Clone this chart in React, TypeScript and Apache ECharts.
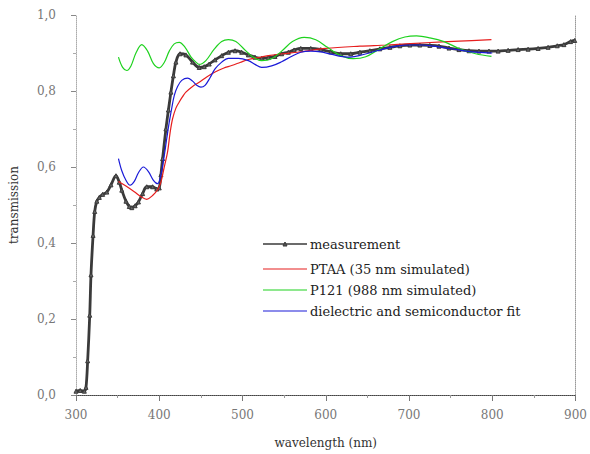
import React, { useEffect, useRef } from "react";
import * as echarts from "echarts";

const seriesNames = [
  "measurement",
  "PTAA (35 nm simulated)",
  "P121 (988 nm simulated)",
  "dielectric and semiconductor fit",
];

const measurement: [number, number][] = [
  [300, 0.01], [305, 0.012], [310, 0.01], [312, 0.02], [314, 0.09], [316.5, 0.21], [318, 0.316],
  [320.5, 0.42], [322.5, 0.483], [325, 0.51], [328, 0.52], [332, 0.528], [337, 0.534], [342, 0.553],
  [348, 0.577], [352, 0.56], [355, 0.539], [360, 0.51], [364, 0.496], [367, 0.493], [371, 0.498],
  [375, 0.508], [380, 0.53], [385, 0.548], [392, 0.548], [397, 0.542], [400, 0.545], [402, 0.58],
  [404, 0.622], [408, 0.7], [411, 0.75], [414, 0.797], [417, 0.84], [420, 0.876], [425, 0.898],
  [432, 0.895], [440, 0.876], [448, 0.862], [454, 0.864], [460, 0.871], [467, 0.882], [475, 0.893],
  [483, 0.902], [491, 0.906], [499, 0.902], [507, 0.895], [515, 0.889], [523, 0.886], [531, 0.888],
  [539, 0.891], [547, 0.898], [555, 0.902], [562, 0.908], [570, 0.912], [582, 0.912], [594, 0.909],
  [606, 0.903], [618, 0.898], [630, 0.898], [641, 0.902], [653, 0.906], [665, 0.911], [677, 0.915],
  [689, 0.919], [701, 0.921], [713, 0.921], [725, 0.92], [736, 0.918], [748, 0.913], [760, 0.909],
  [772, 0.906], [784, 0.905], [796, 0.905], [807, 0.905], [819, 0.907], [831, 0.909], [843, 0.91],
  [855, 0.912], [867, 0.915], [878, 0.919], [886, 0.922], [894, 0.93], [899, 0.933],
];

const ptaa: [number, number][] = [
  [351, 0.562], [360, 0.55], [370, 0.535], [378, 0.522], [385, 0.515], [392, 0.525], [398, 0.54],
  [402, 0.56], [406, 0.6], [410, 0.64], [413, 0.69], [416, 0.727], [420, 0.755], [424, 0.771],
  [428, 0.785], [432, 0.797], [440, 0.812], [448, 0.823], [457, 0.837], [467, 0.85], [477, 0.86],
  [487, 0.867], [497, 0.875], [507, 0.883], [519, 0.888], [531, 0.893], [548, 0.898], [566, 0.902],
  [600, 0.912], [641, 0.918], [673, 0.921], [720, 0.927], [760, 0.931], [799, 0.935],
];

const p121: [number, number][] = [
  [351, 0.889], [356, 0.862], [361, 0.854], [366, 0.866], [372, 0.9], [379, 0.922], [386, 0.905],
  [393, 0.872], [400, 0.861], [406, 0.875], [412, 0.905], [418, 0.924], [424, 0.928], [431, 0.915],
  [438, 0.89], [444, 0.876], [448, 0.87], [456, 0.88], [466, 0.91], [475, 0.93], [483, 0.935],
  [492, 0.93], [502, 0.91], [512, 0.89], [523, 0.88], [535, 0.885], [547, 0.905], [560, 0.93],
  [574, 0.941], [588, 0.935], [602, 0.915], [618, 0.893], [633, 0.885], [648, 0.89], [664, 0.91],
  [680, 0.93], [695, 0.942], [709, 0.945], [725, 0.94], [742, 0.93], [760, 0.912], [780, 0.898],
  [799, 0.891],
];

const fit: [number, number][] = [
  [351, 0.622], [355, 0.59], [360, 0.565], [365, 0.552], [370, 0.562], [375, 0.585], [381, 0.6],
  [387, 0.588], [393, 0.565], [398, 0.556], [402, 0.58], [406, 0.63], [409, 0.675], [412, 0.718],
  [415, 0.755], [418, 0.788], [422, 0.812], [427, 0.828], [434, 0.834], [440, 0.826], [445, 0.815],
  [450, 0.81], [455, 0.815], [461, 0.835], [467, 0.858], [475, 0.876], [483, 0.886], [495, 0.886],
  [507, 0.88], [515, 0.87], [523, 0.862], [535, 0.866], [547, 0.877], [558, 0.89], [570, 0.902],
  [582, 0.905], [594, 0.903], [606, 0.897], [618, 0.891], [626, 0.889], [640, 0.893], [655, 0.902],
  [670, 0.911], [685, 0.918], [700, 0.921], [715, 0.921], [730, 0.918], [745, 0.913], [760, 0.908],
  [775, 0.903], [790, 0.901], [800, 0.9],
];

const colors = ["#3a3a3a", "#e61e1e", "#1ed21e", "#1a1ad8"];
const legendRows = [244, 269, 290, 311];

const FONT = "DejaVu Serif";

export default function App() {
  const ref = useRef<HTMLDivElement>(null);
  useEffect(() => {
    if (!ref.current) return;
    const chart = echarts.init(ref.current, undefined, { renderer: "svg" });
    const datasets = [measurement, ptaa, p121, fit];

    const graphic: any[] = [];
    seriesNames.forEach((name, i) => {
      const y = legendRows[i];
      graphic.push({
        type: "line",
        shape: { x1: 263, y1: y, x2: 307, y2: y },
        style: { stroke: colors[i], lineWidth: i === 0 ? 1.5 : 1.2 },
      });
      if (i === 0) {
        graphic.push({
          type: "polygon",
          shape: { points: [[283, y + 2], [285, y - 2], [287, y + 2]] },
          style: { fill: "#555", stroke: colors[0], lineWidth: 1 },
        });
      }
      graphic.push({
        type: "text",
        x: 310,
        y,
        style: {
          text: name,
          fill: "#222",
          font: `13px '${FONT}'`,
          verticalAlign: "middle",
        },
      });
    });

    chart.setOption({
      animation: false,
      backgroundColor: "#fff",
      grid: { left: 72, right: 13, top: 15, bottom: 59 },
      xAxis: [
        {
          type: "value",
          min: 300,
          max: 900,
          interval: 100,
          position: "bottom",
          name: "wavelength (nm)",
          nameLocation: "middle",
          nameGap: 42,
          nameTextStyle: { fontFamily: FONT, fontSize: 12, color: "#333" },
          axisLine: { show: true, lineStyle: { color: "#999", type: "dotted", width: 1 } },
          axisTick: { show: true, inside: false, length: 6, lineStyle: { color: "#777" } },
          minorTick: { show: true, splitNumber: 2, length: 3, lineStyle: { color: "#999" } },
          axisLabel: { fontFamily: FONT, fontSize: 12, color: "#777", margin: 14 },
          splitLine: { show: false },
        },
        {
          type: "value",
          min: 300,
          max: 900,
          position: "top",
          axisLine: { show: true, lineStyle: { color: "#444", type: "dotted", width: 1 } },
          axisTick: { show: false },
          axisLabel: { show: false },
          splitLine: { show: false },
        },
      ],
      yAxis: [
        {
          type: "value",
          min: 0,
          max: 1,
          interval: 0.2,
          position: "left",
          name: "transmission",
          nameLocation: "middle",
          nameGap: 56,
          nameTextStyle: { fontFamily: FONT, fontSize: 12, color: "#333" },
          axisLine: { show: true, lineStyle: { color: "#aaa", type: "dotted", width: 1 } },
          axisTick: { show: true, inside: false, length: 5, lineStyle: { color: "#888" } },
          minorTick: { show: true, splitNumber: 2, length: 3, lineStyle: { color: "#aaa" } },
          axisLabel: {
            fontFamily: FONT,
            fontSize: 12,
            color: "#777",
            margin: 20,
            formatter: (v: number) => v.toFixed(1).replace(".", ","),
          },
          splitLine: { show: false },
        },
        {
          type: "value",
          min: 0,
          max: 1,
          position: "right",
          axisLine: { show: true, lineStyle: { color: "#999", type: "dotted", width: 1 } },
          axisTick: { show: false },
          axisLabel: { show: false },
          splitLine: { show: false },
        },
      ],
      graphic,
      series: seriesNames.map((name, i) => ({
        name,
        type: "line",
        data: datasets[i],
        smooth: 0.35,
        xAxisIndex: 0,
        yAxisIndex: 0,
        showSymbol: i === 0,
        symbol: "triangle",
        symbolSize: 4,
        itemStyle: { color: i === 0 ? "#666" : colors[i], borderColor: colors[i], borderWidth: 1 },
        lineStyle: { color: colors[i], width: i === 0 ? 2.8 : 1.2 },
        z: i === 0 ? 2 : 3,
      })),
    });
    return () => chart.dispose();
  }, []);
  return (
    <div
      ref={ref}
      style={{ position: "absolute", left: 0, top: 0, width: 590, height: 454 }}
    />
  );
}
